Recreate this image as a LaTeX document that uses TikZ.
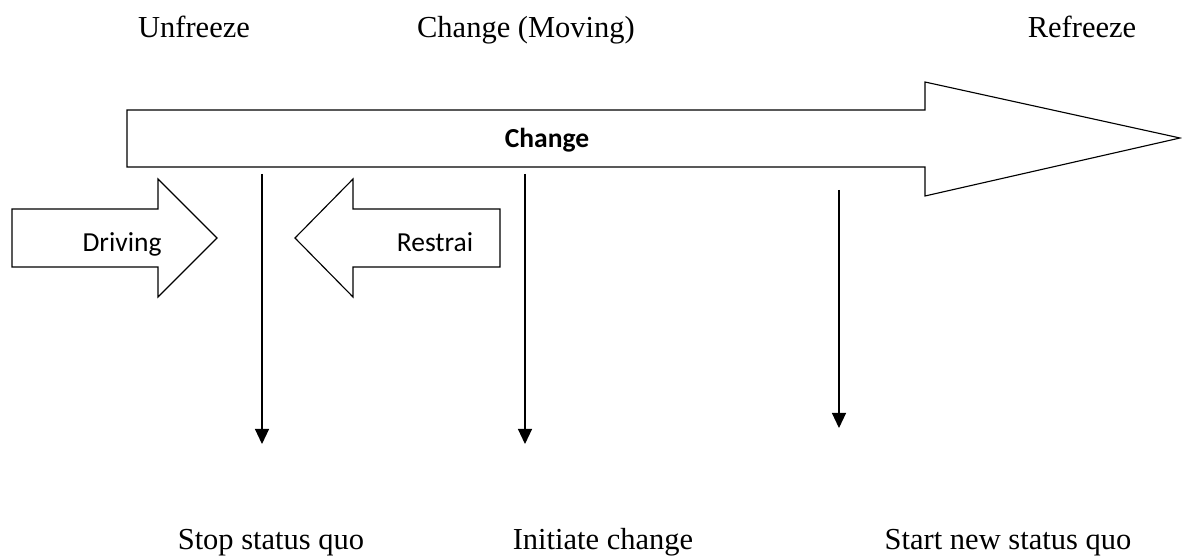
\documentclass[tikz,border=0pt]{standalone}
\usepackage{fontspec}
\setmainfont{Liberation Serif}
\newfontfamily\calibri{Carlito}
\usetikzlibrary{
    arrows.meta,
}
\tikzstyle{stage} = [font=\fontsize{12.2}{14}\selectfont, anchor=base, inner sep=0pt]
\tikzstyle{force} = [font=\calibri\fontsize{11}{13}\selectfont, anchor=base, inner sep=0pt]
\tikzstyle{outline} = [draw, line width=0.45pt, line join=miter]
\tikzstyle{line} = [draw, line width=0.45pt, -{Triangle[length=6pt,width=5.6pt]}]

\begin{document}
\begin{tikzpicture}[x=0.4pt, y=-0.4pt]
        \useasboundingbox (0,0) rectangle (1182,559);
        % Draw arrow shapes
        \path [outline] (127,110) -- (925,110) -- (925,82) -- (1180,138)
            -- (925,196) -- (925,167) -- (127,167) -- cycle;
        \path [outline] (12,209) -- (158,209) -- (158,179) -- (217,238)
            -- (158,297) -- (158,267) -- (12,267) -- cycle;
        \path [outline] (500,209) -- (353,209) -- (353,179) -- (295,238)
            -- (353,297) -- (353,267) -- (500,267) -- cycle;
        % Place nodes
        \node [stage] (unfreeze) at (194,38) {Unfreeze};
        \node [stage] (moving) at (526,38) {Change (Moving)};
        \node [stage] (refreeze) at (1082,38) {Refreeze};
        \node [force, font=\calibri\bfseries\fontsize{11}{13}\selectfont] (change) at (547,148) {Change};
        \node [force] (driving) at (122,252) {Driving};
        \node [force] (restrai) at (435,252) {Restrai};
        \node [stage] (stop) at (271,549) {Stop status quo};
        \node [stage] (initiate) at (603,549) {Initiate change};
        \node [stage] (start) at (1008,549) {Start new status quo};
        % Coordinates for the drops
        \coordinate (stop_top) at (262,174);
        \coordinate (stop_end) at (262,444);
        \coordinate (initiate_top) at (525,174);
        \coordinate (initiate_end) at (525,444);
        \coordinate (start_top) at (839,190);
        \coordinate (start_end) at (839,428);
        % Draw edges
        \path [line] (stop_top) -- (stop_end);
        \path [line] (initiate_top) -- (initiate_end);
        \path [line] (start_top) -- (start_end);
    \end{tikzpicture}
\end{document}
